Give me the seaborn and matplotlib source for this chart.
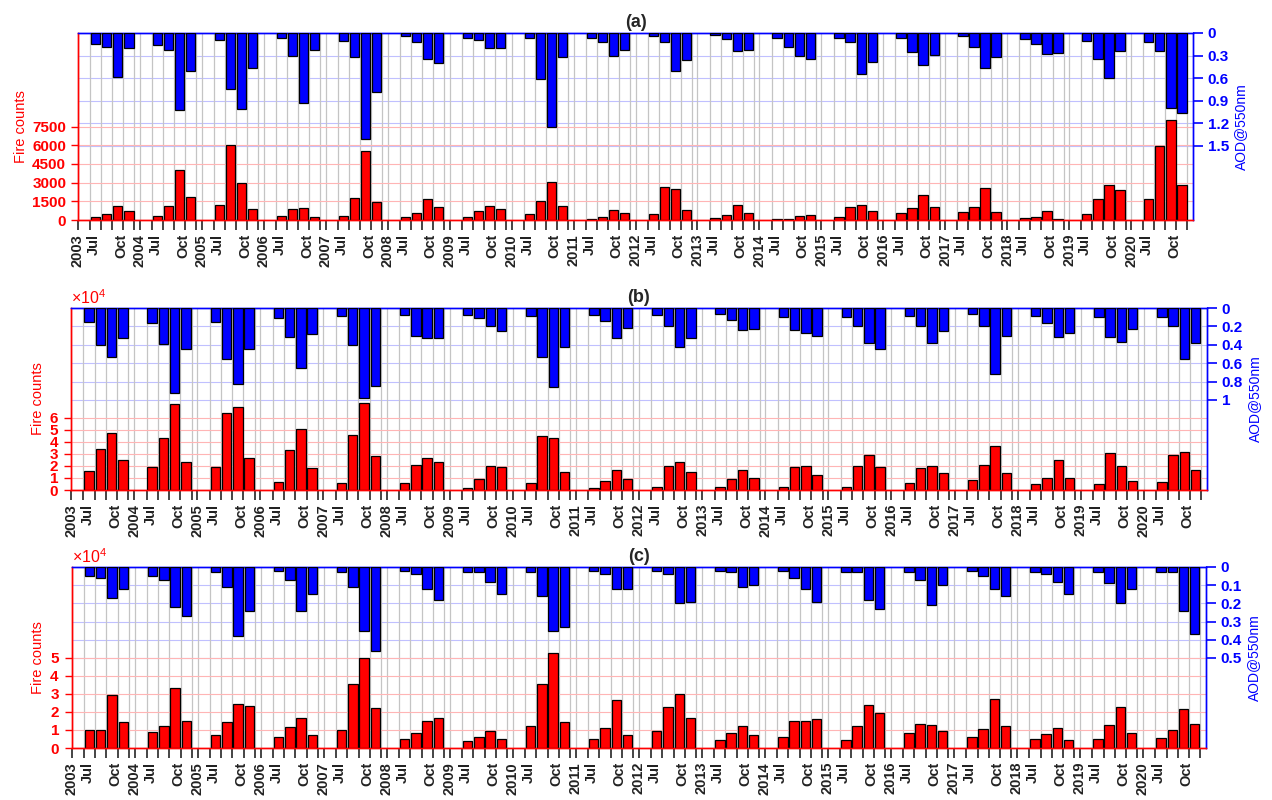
import numpy as np
import pandas as pd
import matplotlib
matplotlib.use("Agg")
import matplotlib.pyplot as plt
import seaborn as sns
from matplotlib.ticker import FuncFormatter, ScalarFormatter

# ---------------- data ----------------
years = list(range(2003, 2021))
months = ["Jul", "Aug", "Sep", "Oct"]

fire_a = [250, 510, 1150, 700, 320, 1150, 4000, 1850, 1230, 6000, 2970, 880,
          350, 880, 990, 270, 350, 1800, 5500, 1450, 210, 540, 1660, 1020,
          270, 700, 1100, 880, 480, 1530, 3050, 1100, 80, 270, 780, 540,
          480, 2680, 2490, 830, 160, 400, 1180, 540, 50, 110, 350, 400,
          210, 1020, 1180, 750, 540, 990, 1980, 1050, 620, 1050, 2550, 620,
          190, 270, 750, 110, 480, 1660, 2840, 2410, 1660, 5900, 8040, 2840]
aod_a = [0.14, 0.19, 0.59, 0.20, 0.16, 0.22, 1.02, 0.50, 0.09, 0.75, 1.01, 0.46,
         0.07, 0.31, 0.93, 0.23, 0.10, 0.32, 1.41, 0.78, 0.04, 0.12, 0.35, 0.40,
         0.07, 0.09, 0.20, 0.20, 0.06, 0.61, 1.25, 0.32, 0.06, 0.12, 0.30, 0.23,
         0.04, 0.12, 0.51, 0.36, 0.03, 0.08, 0.24, 0.22, 0.07, 0.19, 0.31, 0.35,
         0.06, 0.12, 0.54, 0.39, 0.07, 0.25, 0.43, 0.29, 0.04, 0.18, 0.46, 0.32,
         0.08, 0.14, 0.28, 0.27, 0.10, 0.34, 0.60, 0.24, 0.12, 0.24, 1.00, 1.07]

fire_b = [15400, 34400, 47400, 24800, 18700, 43300, 71000, 23400, 18700, 63600, 68600, 26200,
          6600, 33600, 50700, 17900, 5800, 46000, 72500, 28400, 5500, 20900, 26200, 22900,
          1900, 9400, 20100, 18700, 5500, 44900, 43300, 14600, 1900, 7700, 16500, 9100,
          2500, 20100, 23400, 14600, 2200, 9100, 16500, 9600, 2200, 19300, 20100, 12700,
          2200, 19800, 28900, 19300, 6100, 18200, 20100, 14000, 8000, 20900, 36600, 14000,
          4700, 9900, 24500, 10200, 5200, 30300, 19600, 7200, 6600, 28900, 31700, 16800]
aod_b = [0.15, 0.40, 0.53, 0.33, 0.16, 0.39, 0.93, 0.45, 0.15, 0.56, 0.83, 0.45,
         0.11, 0.32, 0.65, 0.28, 0.09, 0.40, 0.98, 0.85, 0.08, 0.31, 0.33, 0.33,
         0.08, 0.11, 0.20, 0.25, 0.09, 0.53, 0.86, 0.42, 0.08, 0.14, 0.33, 0.22,
         0.08, 0.20, 0.42, 0.33, 0.07, 0.13, 0.24, 0.23, 0.10, 0.24, 0.27, 0.31,
         0.10, 0.20, 0.38, 0.45, 0.09, 0.20, 0.38, 0.25, 0.07, 0.20, 0.72, 0.31,
         0.09, 0.16, 0.32, 0.27, 0.10, 0.32, 0.37, 0.23, 0.10, 0.20, 0.55, 0.38]

fire_c = [10100, 10000, 29200, 14600, 8700, 12400, 33400, 15100, 7400, 14400, 24200, 23400,
          6100, 11400, 16600, 7400, 10100, 35600, 49800, 22100, 5200, 8300, 15100, 16800,
          3900, 6300, 9600, 5200, 12000, 35200, 52600, 14200, 5200, 11100, 26400, 7400,
          9200, 22500, 29900, 16400, 4600, 8300, 12400, 7400, 5900, 15100, 15100, 16100,
          4200, 12400, 23600, 19400, 8300, 13500, 12900, 9600, 6100, 10700, 26900, 12200,
          5200, 7900, 11100, 4600, 5200, 12900, 22900, 8300, 5700, 10100, 21600, 13300]
aod_c = [0.05, 0.06, 0.17, 0.12, 0.05, 0.07, 0.22, 0.27, 0.03, 0.11, 0.38, 0.24,
         0.02, 0.07, 0.24, 0.15, 0.03, 0.11, 0.35, 0.46, 0.02, 0.04, 0.12, 0.18,
         0.03, 0.03, 0.08, 0.15, 0.03, 0.16, 0.35, 0.33, 0.02, 0.04, 0.12, 0.12,
         0.02, 0.04, 0.20, 0.19, 0.02, 0.03, 0.11, 0.10, 0.02, 0.06, 0.12, 0.19,
         0.03, 0.03, 0.18, 0.23, 0.03, 0.07, 0.21, 0.10, 0.02, 0.05, 0.12, 0.16,
         0.03, 0.04, 0.08, 0.15, 0.03, 0.09, 0.20, 0.12, 0.03, 0.03, 0.24, 0.37]

fire_ticks_a = [0, 1500, 3000, 4500, 6000, 7500]
fire_ticks_b = [0, 10000, 20000, 30000, 40000, 50000, 60000]
fire_ticks_c = [0, 10000, 20000, 30000, 40000, 50000]
aod_ticks_a = [0, 0.3, 0.6, 0.9, 1.2, 1.5]
aod_ticks_b = [0, 0.2, 0.4, 0.6, 0.8, 1.0]
aod_ticks_c = [0, 0.1, 0.2, 0.3, 0.4, 0.5]

# ---------------- style ----------------
sns.set_style("white")
plt.rcParams["font.family"] = ["Liberation Sans", "DejaVu Sans"]
plt.rcParams["mathtext.fontset"] = "custom"
plt.rcParams["mathtext.rm"] = "Liberation Sans"
plt.rcParams["xtick.bottom"] = True
plt.rcParams["ytick.left"] = True
plt.rcParams["ytick.right"] = True

W, H = 1272, 800
YEAR_LEN = 5.6     # x units per year block
FIRST = 1.6        # centre of first (Jul) bar inside a year block
BW = 0.84
RED = "#ff0000"
BLUE = "#0000ff"

fig = plt.figure(figsize=(W / 100, H / 100), dpi=100)

panels = [
    dict(title="(a)", box=(78, 33, 1193, 220), fire=fire_a, aod=aod_a,
         fmax=15000, fticks=fire_ticks_a, amax=2.49, aticks=aod_ticks_a, sci=False),
    dict(title="(b)", box=(71, 308, 1207, 490), fire=fire_b, aod=aod_b,
         fmax=151000, fticks=fire_ticks_b, amax=1.98, aticks=aod_ticks_b, sci=True),
    dict(title="(c)", box=(71.5, 567, 1206, 748), fire=fire_c, aod=aod_c,
         fmax=100000, fticks=fire_ticks_c, amax=0.995, aticks=aod_ticks_c, sci=True),
]

pos = [i * YEAR_LEN + FIRST + j for i in range(len(years)) for j in range(len(months))]

major_pos, major_lab, minor_pos = [], [], []
for i, y in enumerate(years):
    base = i * YEAR_LEN
    major_pos += [base, base + 1.45, base + 3.9]
    major_lab += [str(y), "Jul", "Oct"]
    minor_pos += [base] + [base + FIRST - 0.5 + k for k in range(len(months) + 1)]

for p in panels:
    l, t, r, b = p["box"]
    ax = fig.add_axes([l / W, 1 - b / H, (r - l) / W, (b - t) / H])
    df = pd.DataFrame({"pos": pos, "fire": p["fire"], "aod": p["aod"]})

    sns.barplot(data=df, x="pos", y="fire", native_scale=True, color=RED,
                saturation=1, edgecolor="black", linewidth=0.9, width=BW,
                errorbar=None, ax=ax, zorder=3)
    ax2 = ax.twinx()
    sns.barplot(data=df, x="pos", y="aod", native_scale=True, color=BLUE,
                saturation=1, edgecolor="black", linewidth=0.9, width=BW,
                errorbar=None, ax=ax2, zorder=3)

    xmax = len(years) * YEAR_LEN
    ax.set_xlim(0, xmax)
    ax.set_ylim(0, p["fmax"])
    ax2.set_ylim(p["amax"], 0)

    # x axis
    ax.xaxis.remove_overlapping_locs = False
    ax.set_xticks(major_pos)
    ax.set_xticklabels(major_lab, rotation=90, fontsize=10.5, fontweight="bold",
                       color="#222222")
    ax.set_xticks(minor_pos, minor=True)
    ax.tick_params(axis="x", which="major", length=0, pad=10)
    ax.tick_params(axis="x", which="minor", length=7.5, width=1.4,
                   color="#444444", direction="out", bottom=True)
    ax.set_xlabel("")

    # grid
    ax.set_axisbelow(True)
    ax.grid(axis="x", which="minor", color="#c4c4c4", lw=0.9)
    ax.grid(axis="x", which="major", visible=False)
    ax.grid(axis="y", which="major", color="#ffb5b5", lw=0.8)
    ax2.grid(False)
    for v in p["aticks"][1:]:
        yf = 1 - v / p["amax"]
        ax.plot([0, 1], [yf, yf], transform=ax.transAxes, color="#c0c0ff",
                lw=0.8, zorder=0.5)

    # left (fire) axis
    ax.set_yticks(p["fticks"])
    if p["sci"]:
        fmt = ScalarFormatter(useMathText=True)
        fmt.set_powerlimits((4, 4))
        ax.yaxis.set_major_formatter(fmt)
        ot = ax.yaxis.get_offset_text()
        ot.set_color(RED)
        ot.set_fontsize(11.5)
    ax.tick_params(axis="y", colors=RED, labelcolor=RED, length=5, width=1,
                   direction="out", left=True, labelsize=11)
    for lab in ax.get_yticklabels():
        lab.set_fontweight("bold")
    ax.set_ylabel("Fire counts", color=RED, fontsize=10.5, labelpad=3)

    # right (AOD) axis
    ax2.set_yticks(p["aticks"])
    ax2.yaxis.set_major_formatter(FuncFormatter(lambda v, _: "%g" % v))
    ax2.tick_params(axis="y", colors=BLUE, labelcolor=BLUE, length=7, width=1.2,
                    direction="out", right=True, labelsize=11)
    for lab in ax2.get_yticklabels():
        lab.set_fontweight("bold")
    ax2.set_ylabel("AOD@550nm", color=BLUE, fontsize=10, labelpad=4)

    for a in (ax, ax2):
        a.spines["left"].set_color(RED)
        a.spines["bottom"].set_color(RED)
        a.spines["top"].set_color(BLUE)
        a.spines["right"].set_color(BLUE)
        for s in a.spines.values():
            s.set_linewidth(1.0)

    ax.set_title(p["title"], fontsize=13, fontweight="bold", pad=4)

fig.savefig("out.png", dpi=100)
